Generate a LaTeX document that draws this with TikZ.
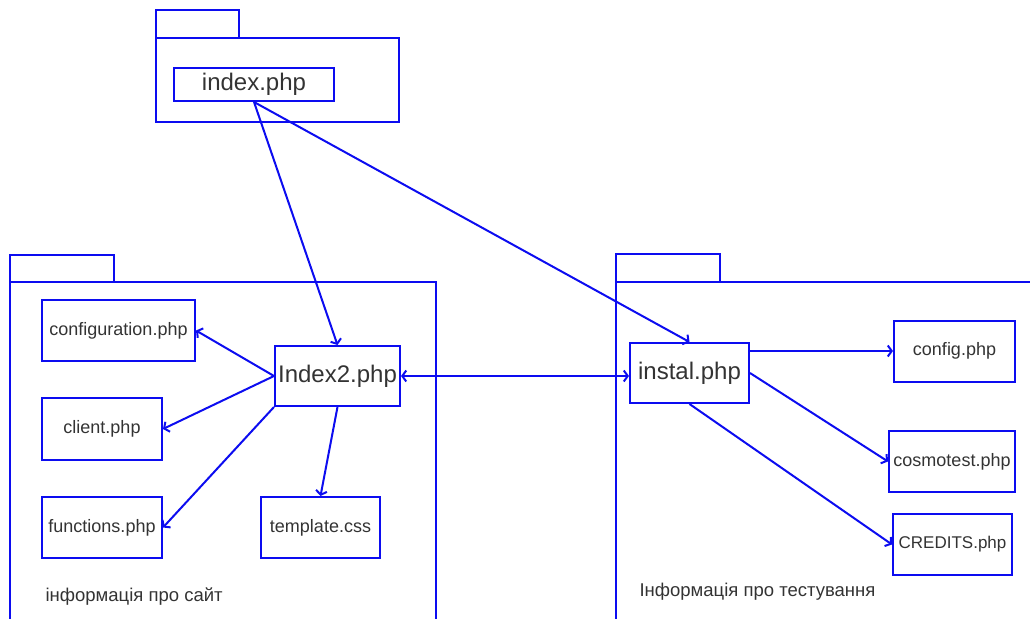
\documentclass[tikz,border=0pt]{standalone}
\usepackage{fontspec}
\setmainfont{Liberation Sans}
\usetikzlibrary{arrows.meta}
\definecolor{umlblue}{RGB}{12,12,240}

\begin{document}
\begin{tikzpicture}[
    x=1pt, y=-1pt,
    >={Straight Barb[length=4pt,width=11pt]},
    pkg/.style={draw=umlblue, line width=2pt},
    file/.style={rectangle, draw=umlblue, line width=2pt, inner sep=0pt,
      text=black!80, font=\fontsize{18}{20}\selectfont},
    mainfile/.style={file, font=\fontsize{24}{26}\selectfont},
    note/.style={anchor=west, text=black!80, font=\fontsize{18.5}{20}\selectfont},
    dep/.style={->, draw=umlblue, line width=2pt}
  ]
  \useasboundingbox (0,0) rectangle (1030,618);
  \clip (0,0) rectangle (1030,618);

  % Packages
  \draw[pkg] (156,10) rectangle (239,38);
  \draw[pkg] (156,38) rectangle (399,122);
  \draw[pkg] (10,255) rectangle (114,282);
  \draw[pkg] (10,630) -- (10,282) -- (436,282) -- (436,630);
  \draw[pkg] (616,254) rectangle (720,282);
  \draw[pkg] (616,630) -- (616,282) -- (1040,282);

  % Files
  \node[mainfile, minimum width=160pt, minimum height=33pt] (idx) at (254,84.5) {index.php};

  \node[file, minimum width=153pt, minimum height=61pt] (conf) at (118.5,330.5) {configuration.php};
  \node[file, minimum width=120pt, minimum height=62pt] (client) at (102,429) {client.php};
  \node[file, minimum width=120pt, minimum height=61pt] (func) at (102,527.5) {functions.php};
  \node[mainfile, minimum width=125pt, minimum height=60pt] (idxtwo) at (337.5,376) {Index2.php};
  \node[file, minimum width=119pt, minimum height=61pt] (tmpl) at (320.5,527.5) {template.css};
  \node[note] (sitenote) at (42,597) {інформація про сайт};

  \node[mainfile, minimum width=119pt, minimum height=60pt] (instal) at (689.5,373) {instal.php};
  \node[file, minimum width=121pt, minimum height=61pt] (cfg) at (954.5,351) {config.php};
  \node[file, minimum width=126pt, minimum height=61pt] (cosmo) at (952,461.5) {cosmotest.php};
  \node[file, minimum width=119pt, minimum height=61pt,
    font=\fontsize{17}{19}\selectfont] (credits) at (952.5,544.5) {CREDITS.php};
  \node[note] (testnote) at (636,592) {Інформація про тестування};

  % Dependencies
  \draw[dep] (idx.south) -- (idxtwo.north);
  \draw[dep] (idx.south) -- (instal.north);
  \draw[dep] (idxtwo.west) -- (conf.east);
  \draw[dep] (idxtwo.west) -- (client.east);
  \draw[dep] (idxtwo.south west) -- (func.east);
  \draw[dep] (idxtwo.south) -- (tmpl.north);
  \draw[dep, <->] (idxtwo.east) -- (idxtwo.east -| instal.west);
  \draw[dep] (instal.east |- cfg.west) -- (cfg.west);
  \draw[dep] (instal.east) -- (cosmo.west);
  \draw[dep] (instal.south) -- (credits.west);

\end{tikzpicture}
\end{document}
